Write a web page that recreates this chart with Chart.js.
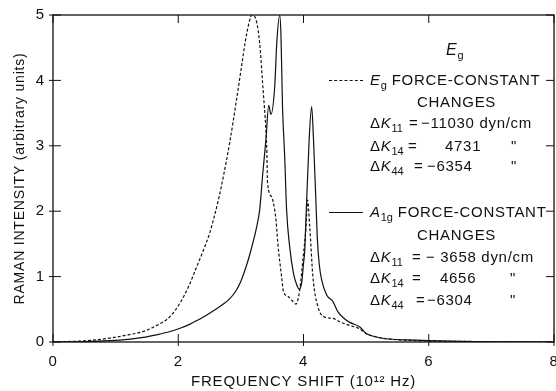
<!DOCTYPE html>
<html>
<head>
<meta charset="utf-8">
<script src="https://cdn.jsdelivr.net/npm/chart.js@4"></script>
<style>
  html,body{margin:0;padding:0;background:#fff;}
  #wrap{position:relative;width:556px;height:391px;font-family:"Liberation Sans",Arial,sans-serif;color:#111;}
  #wrap canvas{position:absolute;left:0;top:0;}
  .t{position:absolute;font-size:15px;line-height:16px;white-space:nowrap;transform:translateY(-50%);letter-spacing:0.7px;}
  .t i{font-style:italic;}
  .t sub{font-size:11px;vertical-align:-4px;line-height:0;letter-spacing:0;}
  .ln{position:absolute;left:329px;width:34px;height:0;}
</style>
</head>
<body>
<div id="wrap">
  <canvas id="c" width="556" height="391"></canvas>

  <div class="t" style="left:446px;top:50px;font-size:16px"><i>E</i><sub>g</sub></div>

  <div class="ln" style="top:80px;border-top:1.2px dashed #111"></div>
  <div class="t" style="left:370px;top:80px"><i>E</i><sub>g</sub> FORCE-CONSTANT</div>
  <div class="t" style="left:417px;top:102px">CHANGES</div>
  <div class="t" style="left:370px;top:123px">Δ<i>K</i><sub>11</sub></div>
  <div class="t" style="left:409px;top:123px">=</div>
  <div class="t" style="left:421px;top:123px">−11030 dyn/cm</div>
  <div class="t" style="left:370px;top:146px">Δ<i>K</i><sub>14</sub></div>
  <div class="t" style="left:408px;top:146px">=</div>
  <div class="t" style="left:445px;top:146px">4731</div>
  <div class="t" style="left:511px;top:146px">"</div>
  <div class="t" style="left:370px;top:166px">Δ<i>K</i><sub>44</sub></div>
  <div class="t" style="left:414px;top:166px">=</div>
  <div class="t" style="left:427px;top:166px">−6354</div>
  <div class="t" style="left:511px;top:166px">"</div>

  <div class="ln" style="top:212px;border-top:1.2px solid #111"></div>
  <div class="t" style="left:370px;top:212px"><i>A</i><sub>1g</sub> FORCE-CONSTANT</div>
  <div class="t" style="left:417px;top:235px">CHANGES</div>
  <div class="t" style="left:370px;top:257px">Δ<i>K</i><sub>11</sub></div>
  <div class="t" style="left:412px;top:257px">=</div>
  <div class="t" style="left:426px;top:257px">− 3658 dyn/cm</div>
  <div class="t" style="left:370px;top:278px">Δ<i>K</i><sub>14</sub></div>
  <div class="t" style="left:412px;top:278px">=</div>
  <div class="t" style="left:440px;top:278px">4656</div>
  <div class="t" style="left:510px;top:278px">"</div>
  <div class="t" style="left:370px;top:300px">Δ<i>K</i><sub>44</sub></div>
  <div class="t" style="left:416px;top:300px">=</div>
  <div class="t" style="left:427px;top:300px">−6304</div>
  <div class="t" style="left:510px;top:300px">"</div>
</div>

<script>
// Eje X: desplazamiento de frecuencia (10^12 Hz)
const xTicks = [0, 2, 4, 6, 8];
const yTicks = [0, 1, 2, 3, 4, 5];

// Curva discontinua: cambios de constantes de fuerza Eg
const egX = [0, 0.54, 0.91, 1.2, 1.44, 1.65, 1.87, 2.03, 2.18, 2.29, 2.40, 2.50, 2.57, 2.64, 2.72, 2.82,
             2.93, 3.01, 3.09, 3.18, 3.25, 3.30, 3.355, 3.40, 3.415, 3.425, 3.49, 3.54, 3.56, 3.59,
             3.65, 3.68, 3.75, 3.82, 3.88, 3.94, 3.99, 4.04, 4.065, 4.10, 4.15, 4.23, 4.34, 4.47,
             4.60, 4.75, 4.90, 5.00, 5.15, 5.32, 5.8, 6.5, 8];
const egY = [0, 0.02, 0.06, 0.11, 0.16, 0.25, 0.39, 0.60, 0.88, 1.14, 1.40, 1.66, 1.90, 2.17, 2.53, 3.04,
             3.70, 4.21, 4.70, 5.0, 4.9, 4.57, 3.85, 3.24, 2.9, 2.45, 2.22, 2.02, 1.87, 1.51,
             1.00, 0.77, 0.70, 0.63, 0.58, 0.80, 1.25, 1.76, 2.17, 1.76, 1.00, 0.54, 0.38, 0.36,
             0.30, 0.25, 0.20, 0.13, 0.08, 0.05, 0.02, 0.01, 0];

// Curva continua: cambios de constantes de fuerza A1g
const a1gX = [0, 0.5, 0.91, 1.2, 1.44, 1.65, 1.87, 2.03, 2.18, 2.30, 2.45, 2.60, 2.72, 2.82, 2.92, 3.00,
              3.10, 3.19, 3.25, 3.30, 3.35, 3.40, 3.445, 3.48, 3.54, 3.575, 3.62, 3.64, 3.665, 3.70,
              3.73, 3.78, 3.84, 3.89, 3.93, 3.97, 4.00, 4.02, 4.04, 4.09, 4.13, 4.16, 4.20, 4.22,
              4.25, 4.29, 4.37, 4.47, 4.55, 4.65, 4.74, 4.90, 5.00, 5.15, 5.32, 5.8, 6.5, 8];
const a1gY = [0, 0.005, 0.02, 0.04, 0.07, 0.11, 0.16, 0.21, 0.27, 0.33, 0.41, 0.50, 0.58, 0.66, 0.78, 0.93,
              1.20, 1.51, 1.75, 2.02, 2.58, 3.09, 3.62, 3.48, 3.9, 4.6, 5.0, 4.7, 3.6, 2.83,
              2.02, 1.45, 1.05, 0.88, 0.81, 0.90, 1.20, 1.40, 1.9, 3.09, 3.60, 3.09, 2.1, 1.6,
              1.20, 0.95, 0.72, 0.62, 0.46, 0.36, 0.30, 0.23, 0.13, 0.08, 0.05, 0.03, 0.01, 0];

const toPts = (xs, ys) => xs.map((x, i) => ({x: x, y: ys[i]}));

const ink = '#111';
const fam = '"Liberation Sans", Arial, sans-serif';

// Espaciado de letras para los textos del lienzo
const spacing = {
  id: 'spacing',
  beforeDraw(chart){ chart.ctx.letterSpacing = '0.8px'; }
};

// Marco completo y marcas de graduación hacia dentro
const frame = {
  id: 'frame',
  afterDraw(chart){
    const {ctx, chartArea: a, scales: {x, y}} = chart;
    const seg = (x1, y1, x2, y2) => { ctx.beginPath(); ctx.moveTo(x1, y1); ctx.lineTo(x2, y2); ctx.stroke(); };
    ctx.save();
    ctx.strokeStyle = ink;
    ctx.lineWidth = 1.3;
    ctx.strokeRect(a.left, a.top, a.right - a.left, a.bottom - a.top);
    ctx.lineWidth = 1;
    xTicks.forEach(v => {
      const px = x.getPixelForValue(v);
      seg(px, a.bottom - 8, px, a.bottom + 4);
      seg(px, a.top, px, a.top + 8);
    });
    yTicks.forEach(v => {
      const py = y.getPixelForValue(v);
      seg(a.left - 4, py, a.left + 8, py);
      seg(a.right - 8, py, a.right, py);
    });
    ctx.restore();
  }
};

new Chart(document.getElementById('c'), {
  type: 'line',
  data: {
    datasets: [{
      label: 'Eg',
      data: toPts(egX, egY),
      borderColor: ink,
      borderWidth: 1.2,
      borderDash: [3, 2],
      pointRadius: 0,
      cubicInterpolationMode: 'monotone',
      fill: false
    }, {
      label: 'A1g',
      data: toPts(a1gX, a1gY),
      borderColor: ink,
      borderWidth: 1.2,
      pointRadius: 0,
      cubicInterpolationMode: 'monotone',
      fill: false
    }]
  },
  options: {
    responsive: false,
    animation: false,
    layout: {padding: {top: 15, right: 2, left: 0, bottom: 0}},
    plugins: {legend: {display: false}, tooltip: {enabled: false}},
    scales: {
      x: {
        type: 'linear', min: 0, max: 8,
        grid: {display: false, drawTicks: false}, border: {display: false},
        ticks: {stepSize: 2, color: ink, font: {family: fam, size: 15}, padding: 11, maxRotation: 0},
        title: {display: true, text: 'FREQUENCY SHIFT (10¹² Hz)', color: ink, font: {family: fam, size: 15}, padding: {top: 0, bottom: 0}},
        afterFit: s => { s.height = 49; s.paddingLeft = 0; s.paddingRight = 0; }
      },
      y: {
        min: 0, max: 5,
        grid: {display: false, drawTicks: false}, border: {display: false},
        ticks: {stepSize: 1, color: ink, font: {family: fam, size: 15}, padding: 8},
        title: {display: true, text: 'RAMAN INTENSITY (arbitrary units)', color: ink, font: {family: fam, size: 14}, padding: {top: 12, bottom: 0}},
        afterFit: s => { s.width = 53; s.paddingTop = 0; s.paddingBottom = 0; }
      }
    }
  },
  plugins: [spacing, frame]
});
</script>
</body>
</html>
